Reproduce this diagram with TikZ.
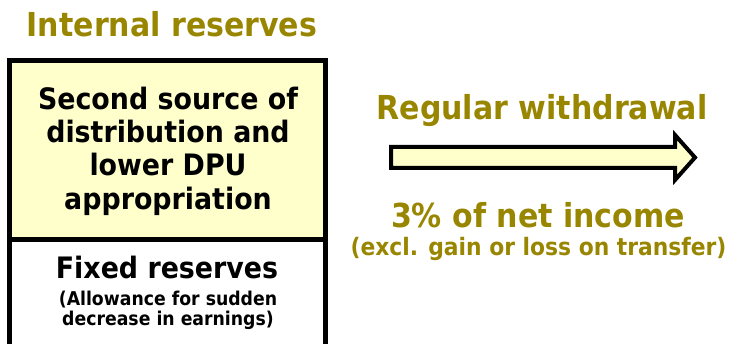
\documentclass[tikz,border=0pt]{standalone}
\usepackage{fontspec}
\usepackage{xcolor}
\newfontfamily\dvsans{DejaVu Sans}[FakeStretch=0.91]
\definecolor{olivetxt}{RGB}{153,134,0}
\definecolor{paleyellow}{RGB}{255,255,204}
\tikzset{
    heading/.style={anchor=base, text=olivetxt, font=\dvsans\bfseries\fontsize{33}{36}\selectfont, inner sep=0},
    boxtext/.style={anchor=base, font=\dvsans\bfseries\fontsize{29.5}{33}\selectfont, inner sep=0},
    smalltext/.style={anchor=base, font=\dvsans\bfseries\fontsize{19}{21}\selectfont, inner sep=0},
}

\begin{document}
\begin{tikzpicture}[x=1pt, y=1pt]
        \useasboundingbox (0,0) rectangle (733,343);

        \node [heading] (title) at (172,306) {Internal reserves};

        \node [draw, line width=5pt, fill=paleyellow, minimum width=316pt, minimum height=179pt, inner sep=0, outer sep=0] (upper) at (167.5,193) {};
        \draw [line width=5pt] (upper.south west) -- ++(0,-110);
        \draw [line width=5pt] (upper.south east) -- ++(0,-110);

        \node [boxtext] (second) at (168,233) {Second source of};
        \node [boxtext] (distr) at (168,200) {distribution and};
        \node [boxtext] (lower) at (168,167) {lower DPU};
        \node [boxtext] (approp) at (168,134) {appropriation};

        \node [boxtext] (fixed) at (167,65) {Fixed reserves};
        \node [smalltext] (allow) at (168,38) {(Allowance for sudden};
        \node [smalltext] (decr) at (168,18) {decrease in earnings)};

        \node [heading] (regular) at (542,223) {Regular withdrawal};

        % hollow arrow
        \draw [line width=4pt, fill=paleyellow, line join=miter]
            (391,196) -- (675,196) -- (675,208) -- (695,185.5) -- (675,163)
            -- (675,175) -- (391,175) -- cycle;

        \node [heading] (rate) at (538,116) {3\% of net income};
        \node [heading, font=\dvsans\bfseries\fontsize{24}{27}\selectfont] (excl) at (538.5,88) {(excl. gain or loss on transfer)};
    \end{tikzpicture}
\end{document}
